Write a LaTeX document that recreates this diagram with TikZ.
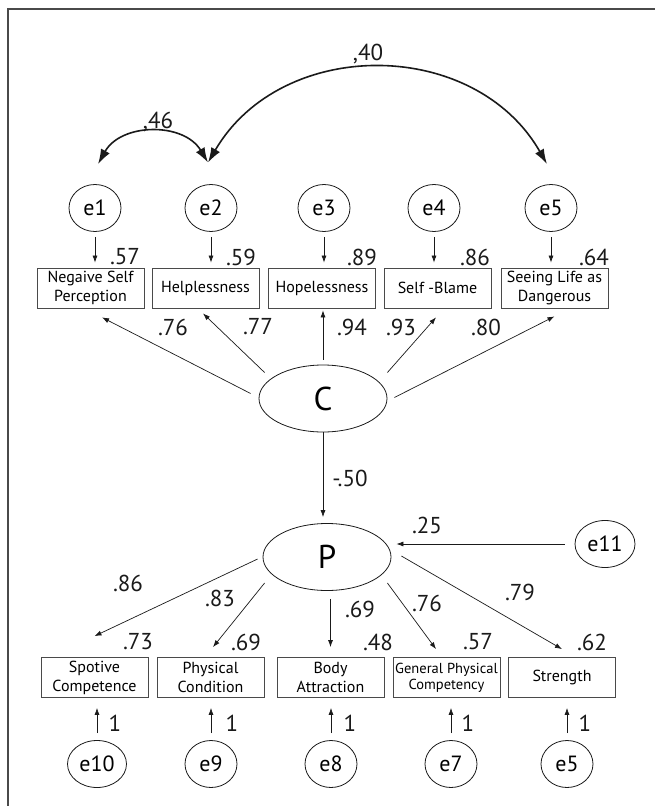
\documentclass[tikz,border=0pt]{standalone}
\usepackage{fontspec}
\setmainfont{PT Sans}
\usetikzlibrary{positioning,arrows.meta,shapes.geometric}
\definecolor{ink}{HTML}{1A1A1A}
\definecolor{rim}{HTML}{4A4A4A}
\tikzset{
  latent/.style={ellipse, draw=ink, line width=0.8pt, minimum width=128pt,
                 minimum height=67pt, inner sep=0pt, font=\fontsize{33}{36}\selectfont},
  err/.style={ellipse, draw=ink, line width=0.8pt, minimum width=52pt,
              minimum height=47pt, inner sep=1pt, font=\fontsize{22}{24}\selectfont},
  obs/.style={rectangle, draw=rim, line width=0.8pt, minimum width=107pt,
              minimum height=40pt, inner sep=0pt, align=center,
              font=\fontsize{16}{19}\selectfont},
  coef/.style={inner sep=0pt, text=ink, font=\fontsize{23}{25}\selectfont},
  load/.style={-{Latex[length=7pt,width=5pt]}, line width=0.7pt, draw=ink},
  corr/.style={{Latex[length=15pt,width=10pt]}-{Latex[length=15pt,width=10pt]},
               line width=1.6pt, draw=ink}
}

\begin{document}
\begin{tikzpicture}[x=1pt,y=1pt]
\useasboundingbox (0,0) rectangle (655,-806);
\draw[line width=1.2pt, draw=rim] (8,-830) |- (680,-9);

% latent factors
\node[latent] (C) at (323,-398.5) {C};
\node[latent] (P) at (327,-557) {P};

% indicators of C
\node[obs] (negself) at (90.5,-288) {Negaive Self\\Perception};
\node[obs] (helpless) at (205.5,-288) {Helplessness};
\node[obs] (hopeless) at (322,-288) {Hopelessness};
\node[obs] (selfblame) at (437.5,-288) {Self -Blame};
\node[obs] (danger) at (554.5,-288) {Seeing Life as\\Dangerous};

% indicators of P
\node[obs] (sport) at (94.5,-677.5) {Spotive\\Competence};
\node[obs] (cond) at (210.5,-677.5) {Physical\\Condition};
\node[obs] (body) at (330.5,-677.5) {Body\\Attraction};
\node[obs, font=\fontsize{14.5}{16}\selectfont] (general) at (446.5,-677.5) {General Physical\\Competency};
\node[obs] (strength) at (562,-677.5) {Strength};

% error terms
\node[err] (e1) at (95,-208) {e1};
\node[err] (e2) at (211,-208) {e2};
\node[err] (e3) at (324,-208) {e3};
\node[err] (e4) at (434,-208) {e4};
\node[err] (e5) at (551,-208) {e5};
\node[err, minimum width=60pt] (e11) at (605,-544) {e11};
\node[err, minimum width=59pt] (e10) at (97,-764) {e10};
\node[err] (e9) at (211,-764) {e9};
\node[err] (e8) at (331,-764) {e8};
\node[err] (e7) at (451,-764) {e7};
\node[err] (e5b) at (567,-764) {e5};

% covariances
\draw[corr] ([xshift=3pt,yshift=20pt]e1.north) to[bend left=60, looseness=1.1]
  node[coef, pos=0.5] (c46) {} ([xshift=-3pt,yshift=21.5pt]e2.north);
\draw[corr] ([xshift=-3pt,yshift=21.5pt]e2.north) to[bend left=60, looseness=1.1]
  node[coef, pos=0.5] (c40) {} ([xshift=-4pt,yshift=20pt]e5.north);
\node[coef] (k46) at (158,-122) {,46};
\node[coef] (k40) at (368,-54) {,40};

% errors into C indicators
\draw[load, shorten <=5pt, shorten >=5pt] (e1.south) -- (e1.south |- negself.north);
\draw[load, shorten <=5pt, shorten >=5pt] (e2.south) -- (e2.south |- helpless.north);
\draw[load, shorten <=5pt, shorten >=5pt] (e3.south) -- (e3.south |- hopeless.north);
\draw[load, shorten <=5pt, shorten >=5pt] (e4.south) -- (e4.south |- selfblame.north);
\draw[load, shorten <=5pt, shorten >=5pt] (e5.south) -- (e5.south |- danger.north);
\node[coef] (r1) at (125,-257) {.57};
\node[coef] (r2) at (241,-257) {.59};
\node[coef] (r3) at (362,-257) {.89};
\node[coef] (r4) at (475,-257) {.86};
\node[coef] (r5) at (594,-257) {.64};

% loadings of C
\draw[load] ([xshift=-8pt,yshift=5pt]C.west) -- ([xshift=11.5pt,yshift=-9pt]negself.south);
\draw[load] ([xshift=6pt,yshift=26pt]C.west) -- ([xshift=-2.5pt,yshift=-5pt]helpless.south);
\draw[load, shorten <=5pt, shorten >=2pt] (C.north) -- (C.north |- hopeless.south);
\draw[load] ([yshift=26pt]C.east) -- ([xshift=-1.5pt,yshift=-9pt]selfblame.south);
\draw[load] ([xshift=7pt,yshift=1pt]C.east) -- ([yshift=-8pt]danger.south);
\node[coef] (l1) at (173,-327) {.76};
\node[coef] (l2) at (258,-327) {.77};
\node[coef] (l3) at (352,-327) {.94};
\node[coef] (l4) at (401,-327) {.93};
\node[coef] (l5) at (486,-327) {.80};

% C to P, disturbance
\draw[load, shorten >=6pt] (C.south) -- (C.south |- P.north);
\node[coef] (b1) at (350,-478) {-.50};
\draw[load, shorten <=10pt] (e11.west) -- ([xshift=5pt,yshift=13pt]P.east);
\node[coef] (d1) at (427,-525) {.25};

% loadings of P
\draw[load] ([xshift=-5pt,yshift=-2pt]P.west) -- ([yshift=21pt]sport.north);
\draw[load] ([xshift=2pt,yshift=-26pt]P.west) -- ([xshift=2.5pt,yshift=10pt]cond.north);
\draw[load, shorten <=8pt, shorten >=10pt] (P.south -| body.north) -- (body.north);
\draw[load] ([xshift=-4pt,yshift=-26pt]P.east) -- ([xshift=-10.5pt,yshift=8pt]general.north);
\draw[load] ([xshift=10pt,yshift=1pt]P.east) -- ([yshift=8pt]strength.north);
\node[coef] (m1) at (128,-583) {.86};
\node[coef] (m2) at (220,-598) {.83};
\node[coef] (m3) at (360,-609) {.69};
\node[coef] (m4) at (427,-603) {.76};
\node[coef] (m5) at (520,-592) {.79};
\node[coef] (s1) at (138,-642) {.73};
\node[coef] (s2) at (246,-642) {.69};
\node[coef] (s3) at (378,-642) {.48};
\node[coef] (s4) at (478,-642) {.57};
\node[coef] (s5) at (592,-642) {.62};

% errors into P indicators
\draw[load, shorten <=7pt, shorten >=10pt] (e10.north) -- (e10.north |- sport.south);
\draw[load, shorten <=7pt, shorten >=10pt] (e9.north) -- (e9.north |- cond.south);
\draw[load, shorten <=7pt, shorten >=10pt] (e8.north) -- (e8.north |- body.south);
\draw[load, shorten <=7pt, shorten >=10pt] (e7.north) -- (e7.north |- general.south);
\draw[load, shorten <=7pt, shorten >=10pt] (e5b.north) -- (e5b.north |- strength.south);
\node[coef] (u1) at (115,-723) {1};
\node[coef] (u2) at (232,-723) {1};
\node[coef] (u3) at (350,-723) {1};
\node[coef] (u4) at (468,-723) {1};
\node[coef] (u5) at (585,-723) {1};
\end{tikzpicture}
\end{document}
